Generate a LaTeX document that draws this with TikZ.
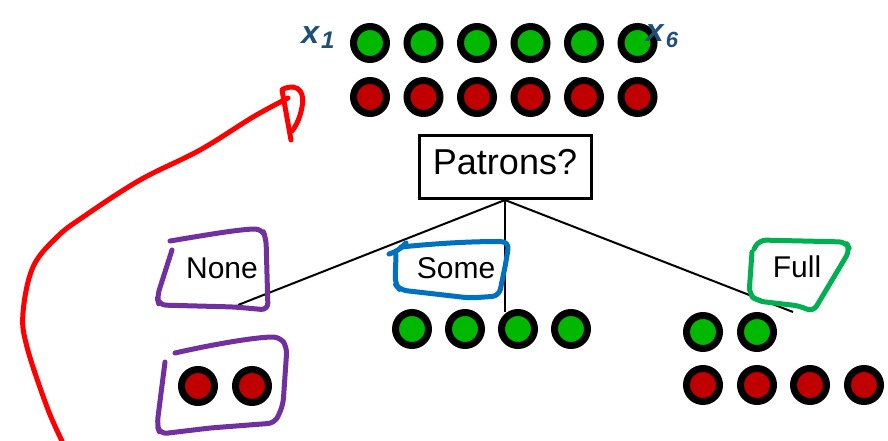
\documentclass[tikz,border=0pt]{standalone}
\usepackage{fontspec}
\setmainfont{Liberation Sans}
\begin{document}
\begin{tikzpicture}[x=1pt,y=-1pt,
  ball/.style={circle,draw=black,line width=7pt,minimum size=33pt,inner sep=0pt},
  gball/.style={ball,fill=ballgreen},
  rball/.style={ball,fill=ballred},
  lbl/.style={font=\fontsize{30}{34}\selectfont,inner sep=0pt},
  branch/.style={line width=2pt,black},
  ink/.style={line width=5pt,line cap=round,line join=round,rounded corners=7pt},
  note/.style={text=inknavy,font=\fontsize{32}{34}\selectfont\bfseries\itshape,inner sep=0pt}]
\definecolor{ballgreen}{HTML}{00B800}
\definecolor{ballred}{HTML}{C00000}
\definecolor{inkpurple}{HTML}{7030A0}
\definecolor{inkblue}{HTML}{0070C0}
\definecolor{inkgreen}{HTML}{00B050}
\definecolor{inkred}{HTML}{FF0000}
\definecolor{inknavy}{HTML}{1F4E79}
\useasboundingbox (0,0) rectangle (888,441);
% top rows
\foreach \i/\x in {1/370,2/423.5,3/477,4/530.5,5/584,6/637.5}{
  \node[gball] (tg\i) at (\x,43) {};
  \node[rball] (tr\i) at (\x,97) {};
}
\node[note] (x1) at (318,38) {x\kern2pt\raisebox{-5pt}{\fontsize{24}{26}\selectfont 1}};
\node[note] (x6) at (662,36) {x\kern2pt\raisebox{-6pt}{\fontsize{22}{24}\selectfont 6}};
% root
\node[draw,line width=3pt,minimum width=172pt,minimum height=63pt,inner sep=0pt,
  text height=26pt,text depth=12pt,
  font=\fontsize{36}{40}\selectfont] (patrons) at (505,167) {Patrons?};
% labels
\node[lbl] (none) at (222,268) {None};
\node[lbl] (some) at (456,268) {Some};
\node[lbl] (full) at (797,267) {Full};
\coordinate (cnone) at (238,305);
\coordinate (csome) at (505,312);
\coordinate (cfull) at (793,312);
\draw[branch] (patrons.south) -- (cnone);
\draw[branch] (patrons.south) -- (csome);
\draw[branch] (patrons.south) -- (cfull);
% subsets
\foreach \i/\x in {1/412,2/465,3/518,4/571}{\node[gball] (sg\i) at (\x,329) {};}
\node[gball] (fg1) at (703,332) {};
\node[gball] (fg2) at (757,332) {};
\foreach \i/\x in {1/703,2/757,3/810,4/864}{\node[rball] (fr\i) at (\x,385) {};}
\node[rball] (nr1) at (198,386) {};
\node[rball] (nr2) at (252,386) {};
% hand-drawn annotations
\draw[ink,inkpurple] (170,241) .. controls (200,236) and (240,229) .. (262,229) -- (266,238) -- (268,310) -- (235,307) -- (159,305) -- (157,297) -- (172,250);
\draw[ink,inkpurple] (175,353) .. controls (210,345) and (255,337) .. (280,337) -- (287,347) -- (283,405) -- (275,423) -- (210,428) -- (160,434) -- (157,425) -- (165,362);
\draw[ink,inkblue] (389,254) -- (398,251) -- (406,243);
\draw[ink,inkblue] (401,247) .. controls (440,243) and (480,241) .. (509,242) -- (506,262) -- (499,296) -- (470,298) -- (400,290) -- (395,284) -- (396,255);
\draw[ink,inkgreen] (754,249) -- (759,240) -- (846,242) -- (850,250) -- (813,312) -- (800,306) -- (757,301) -- (749,294) -- (752,252);
\draw[inkred,line width=5pt,line cap=round,line join=round]
  plot[smooth,tension=0.6] coordinates {(62,441) (47,407) (27,347) (23,313) (33,267) (57,237) (83,217) (140,180) (200,150) (253,117) (288,98)};
\draw[inkred,line width=5pt,line cap=round] (282,90) -- (291,140);
\draw[inkred,line width=5pt,line cap=round] (283,89) .. controls (300,82) and (305,95) .. (302,107) .. controls (300,118) and (296,126) .. (292,131);
\end{tikzpicture}
\end{document}
